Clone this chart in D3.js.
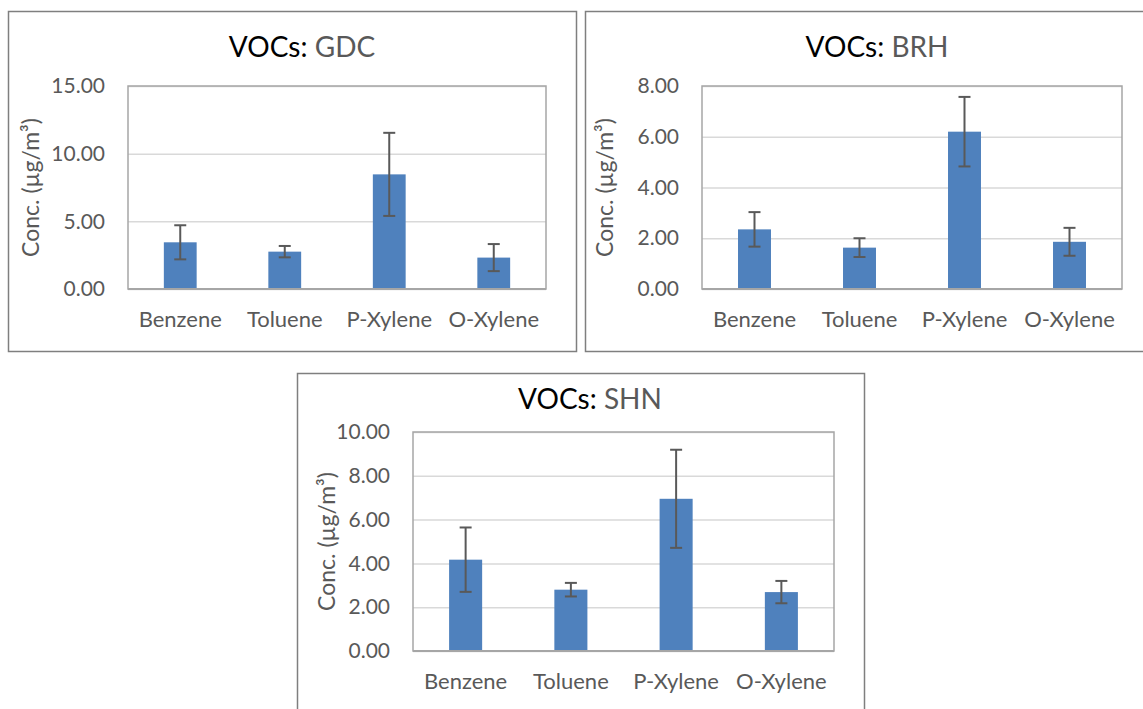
<!DOCTYPE html>
<html>
<head>
<meta charset="utf-8">
<script src="https://cdn.jsdelivr.net/npm/d3@7"></script>
<style>
  html, body { margin: 0; padding: 0; background: #fff; }
  svg { display: block; }
  text { font-family: Lato, "Open Sans", sans-serif; }
</style>
</head>
<body>
<svg id="chart" width="1143" height="709"></svg>
<script>
// Measured VOC concentrations (µg/m³), mean and standard deviation per site
const categories = ["Benzene", "Toluene", "P-Xylene", "O-Xylene"];

const gdcMean = [3.45, 2.76, 8.47, 2.32];
const gdcErr  = [1.26, 0.42, 3.07, 1.00];

const brhMean = [2.35, 1.63, 6.20, 1.86];
const brhErr  = [0.68, 0.37, 1.37, 0.55];

const shnMean = [4.17, 2.80, 6.95, 2.69];
const shnErr  = [1.47, 0.31, 2.24, 0.51];

const gdcTicks = [0, 5, 10, 15];
const brhTicks = [0, 2, 4, 6, 8];
const shnTicks = [0, 2, 4, 6, 8, 10];

const axisTitle = "Conc. (µg/m³)";

// Panel layout: outer frame, plot area and text anchors
const panels = [
  { site: "GDC", mean: gdcMean, err: gdcErr, ticks: gdcTicks,
    frame: { x: 8, y: 11, w: 568, h: 340 },
    plot: { x: 128, y: 86, w: 418, h: 203 },
    titleX: 302, titleY: 57, yTitleX: 31 },
  { site: "BRH", mean: brhMean, err: brhErr, ticks: brhTicks,
    frame: { x: 585, y: 11, w: 568, h: 340 },
    plot: { x: 702, y: 86, w: 420, h: 203 },
    titleX: 877, titleY: 57, yTitleX: 605 },
  { site: "SHN", mean: shnMean, err: shnErr, ticks: shnTicks,
    frame: { x: 297, y: 373, w: 567, h: 345 },
    plot: { x: 413, y: 432, w: 421, h: 219 },
    titleX: 590, titleY: 409, yTitleX: 327 }
];

const BAR = "#4f81bd";
const TEXT = "#595959";

const svg = d3.select("#chart");

panels.forEach(p => {
  const g = svg.append("g");

  // outer chart frame
  g.append("rect")
    .attr("x", p.frame.x + 0.5).attr("y", p.frame.y + 0.5)
    .attr("width", p.frame.w).attr("height", p.frame.h)
    .attr("fill", "#fff").attr("stroke", "#7f7f7f").attr("stroke-width", 1.5);

  // title
  const t = g.append("text")
    .attr("x", p.titleX).attr("y", p.titleY)
    .attr("text-anchor", "middle")
    .attr("font-size", 28);
  t.append("tspan").attr("fill", "#000").text("VOCs: ");
  t.append("tspan").attr("fill", TEXT).text(p.site);

  const x = d3.scaleBand()
    .domain(categories)
    .range([p.plot.x, p.plot.x + p.plot.w])
    .paddingInner(0.686).paddingOuter(0.343);

  const y = d3.scaleLinear()
    .domain([0, d3.max(p.ticks)])
    .range([p.plot.y + p.plot.h, p.plot.y]);

  // gridlines + y tick labels
  const yAxis = d3.axisLeft(y)
    .tickValues(p.ticks)
    .tickFormat(d3.format(".2f"))
    .tickSize(-p.plot.w)
    .tickPadding(23);
  const ya = g.append("g")
    .attr("transform", `translate(${p.plot.x},0)`)
    .call(yAxis);
  ya.select(".domain").remove();
  ya.selectAll(".tick line").attr("stroke", "#d9d9d9").attr("stroke-width", 1.5);
  ya.selectAll(".tick text")
    .attr("fill", TEXT).attr("font-size", 21)
    .attr("font-family", "Lato, 'Open Sans', sans-serif");

  // plot area border
  g.append("rect")
    .attr("x", p.plot.x).attr("y", p.plot.y)
    .attr("width", p.plot.w).attr("height", p.plot.h)
    .attr("fill", "none").attr("stroke", "#a6a6a6").attr("stroke-width", 1.5);

  // bars
  const rows = categories.map((c, i) => ({ c, v: p.mean[i], e: p.err[i] }));
  g.selectAll("rect.bar").data(rows).enter().append("rect")
    .attr("class", "bar")
    .attr("x", d => x(d.c))
    .attr("width", x.bandwidth())
    .attr("y", d => y(d.v))
    .attr("height", d => y(0) - y(d.v))
    .attr("fill", BAR);

  // bottom axis line
  g.append("line")
    .attr("x1", p.plot.x).attr("x2", p.plot.x + p.plot.w)
    .attr("y1", y(0)).attr("y2", y(0))
    .attr("stroke", "#a6a6a6").attr("stroke-width", 2);

  // error bars
  const eb = g.selectAll("g.err").data(rows).enter().append("g")
    .attr("class", "err")
    .attr("stroke", TEXT).attr("stroke-width", 2);
  const cx = d => x(d.c) + x.bandwidth() / 2;
  eb.append("line")
    .attr("x1", cx).attr("x2", cx)
    .attr("y1", d => y(d.v + d.e)).attr("y2", d => y(d.v - d.e));
  eb.append("line")
    .attr("x1", d => cx(d) - 6).attr("x2", d => cx(d) + 6)
    .attr("y1", d => y(d.v + d.e)).attr("y2", d => y(d.v + d.e));
  eb.append("line")
    .attr("x1", d => cx(d) - 6).attr("x2", d => cx(d) + 6)
    .attr("y1", d => y(d.v - d.e)).attr("y2", d => y(d.v - d.e));

  // category labels
  const xAxis = d3.axisBottom(x).tickSize(0).tickPadding(0);
  const xa = g.append("g")
    .attr("transform", `translate(0,${y(0)})`)
    .call(xAxis);
  xa.select(".domain").remove();
  xa.selectAll(".tick text")
    .attr("fill", TEXT).attr("font-size", 22)
    .attr("font-family", "Lato, 'Open Sans', sans-serif")
    .attr("dy", null).attr("y", 38);

  // y axis title
  g.append("text")
    .attr("transform", `translate(${p.yTitleX},${p.plot.y + p.plot.h / 2}) rotate(-90)`)
    .attr("text-anchor", "middle")
    .attr("dy", "0.35em")
    .attr("fill", TEXT).attr("font-size", 23)
    .text(axisTitle);
});
</script>
</body>
</html>
